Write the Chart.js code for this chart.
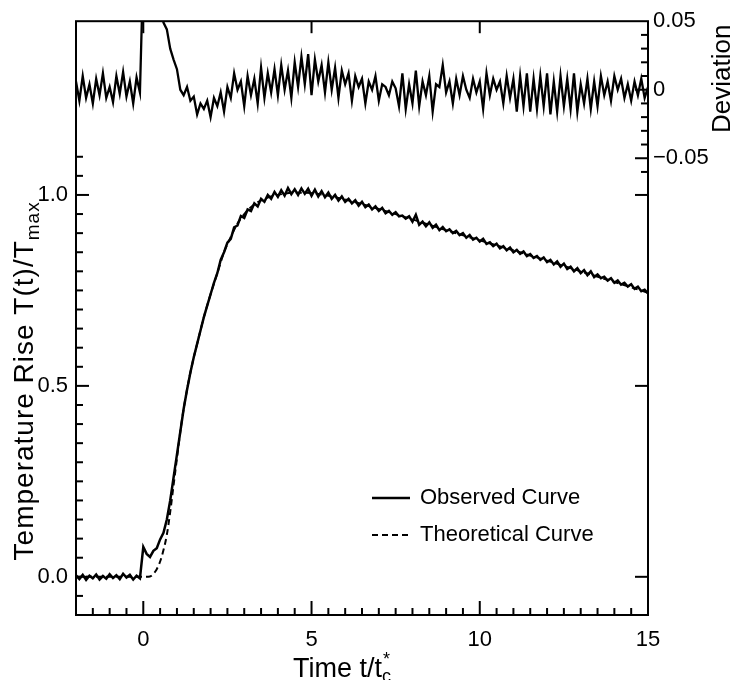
<!DOCTYPE html>
<html>
<head>
<meta charset="utf-8">
<script src="https://cdn.jsdelivr.net/npm/chart.js@4.4.1/dist/chart.umd.min.js"></script>
<style>
  body { margin: 0; background: #fff; }
  #wrap { width: 733px; height: 680px; position: relative; }
</style>
</head>
<body>
<div id="wrap"><canvas id="chart"></canvas></div>
<script>
// sampling grid of the measured traces (t/tc*)
const tStart = -2;
const tStep = 0.1;

// observed temperature rise T(t)/Tmax, one row per unit of time
const obsValue = [
  0.004, -0.006, 0.005, -0.008, 0.003, -0.004, 0.006, -0.007, 0.002, -0.005,
  0.007, -0.003, 0.004, -0.006, 0.008, -0.002, 0.005, -0.007, 0.003, -0.004,
  0.078, 0.06, 0.052, 0.068, 0.075, 0.098, 0.115, 0.15, 0.2, 0.26,
  0.32, 0.38, 0.44, 0.49, 0.535, 0.575, 0.61, 0.645, 0.68, 0.71,
  0.74, 0.77, 0.795, 0.83, 0.85, 0.875, 0.885, 0.915, 0.92, 0.945,
  0.94, 0.962, 0.958, 0.978, 0.97, 0.99, 0.982, 1.0, 0.99, 1.008,
  0.995, 1.012, 0.998, 1.018, 1.002, 1.015, 1.0, 1.017, 1.003, 1.016,
  0.998, 1.014, 0.996, 1.01, 0.994, 1.006, 0.99, 1.0, 0.985, 0.996,
  0.982, 0.99, 0.978, 0.986, 0.972, 0.982, 0.968, 0.975, 0.962, 0.97,
  0.958, 0.966, 0.952, 0.958, 0.948, 0.955, 0.944, 0.946, 0.938, 0.944,
  0.93, 0.948, 0.922, 0.93, 0.918, 0.928, 0.914, 0.922, 0.908, 0.916,
  0.905, 0.91, 0.9, 0.906, 0.895, 0.9, 0.888, 0.895, 0.883, 0.888,
  0.878, 0.885, 0.872, 0.876, 0.866, 0.872, 0.86, 0.866, 0.855, 0.862,
  0.85, 0.856, 0.846, 0.852, 0.84, 0.845, 0.835, 0.84, 0.83, 0.836,
  0.824, 0.83, 0.818, 0.826, 0.812, 0.82, 0.806, 0.812, 0.8, 0.808,
  0.795, 0.803, 0.79, 0.8, 0.785, 0.792, 0.782, 0.786, 0.776, 0.782,
  0.77, 0.776, 0.765, 0.77, 0.76, 0.766, 0.754, 0.76, 0.748, 0.752,
  0.742
];

// deviation observed - theoretical (right axis)
const devValue = [
  0.006, -0.008, 0.01, -0.006, 0.004, -0.01, 0.008, -0.004, 0.012, -0.006,
  0.002, -0.009, 0.01, -0.003, 0.013, -0.005, 0.006, -0.01, 0.009, -0.002,
  0.09, 0.085, 0.08, 0.078, 0.075, 0.06, 0.049, 0.044, 0.03, 0.022,
  0.015, 0.0, -0.004, 0.002, -0.008, -0.005, -0.018, -0.01, -0.014, -0.008,
  -0.02, -0.006, -0.012, -0.002, -0.016, 0.002, -0.006, 0.012, 0.0, 0.006,
  -0.012, 0.01, -0.004, 0.008, -0.01, 0.016, -0.006, 0.012, -0.002, 0.015,
  -0.004, 0.018, 0.0, 0.014, -0.006, 0.02, 0.002, 0.024, 0.004, 0.026,
  -0.004, 0.022, 0.006, 0.018, -0.002, 0.02, 0.0, 0.016, -0.006, 0.014,
  0.004, 0.012, -0.008, 0.01, 0.002, 0.008, -0.01, 0.006, 0.0, 0.01,
  -0.008, 0.004, 0.002, -0.004, 0.006, 0.001, -0.012, 0.012, -0.014, 0.004,
  -0.01, 0.014, -0.012, 0.006, -0.004, 0.01, -0.016, 0.004, 0.002, 0.018,
  -0.002, 0.006, -0.01, 0.008, -0.004, 0.01, 0.0, -0.006, 0.008, -0.002,
  0.006, -0.014, 0.012, -0.004, 0.008, 0.0, 0.006, -0.01, 0.01, -0.006,
  0.008, -0.016, 0.01, -0.012, 0.012, -0.016, 0.008, -0.014, 0.01, -0.012,
  0.012, -0.018, 0.006, -0.016, 0.01, -0.012, 0.008, -0.014, 0.012, -0.016,
  0.004, -0.01, 0.008, -0.014, 0.006, -0.012, 0.01, -0.004, 0.006, -0.008,
  0.01, 0.0, 0.008, -0.006, 0.004, -0.008, 0.006, -0.004, 0.008, -0.006,
  0.002
];

// theoretical curve
const theoTime = [-2, 0, 0.2, 0.3, 0.4, 0.5, 0.6, 0.7, 0.8, 0.9,
  1.0, 1.1, 1.2, 1.3, 1.4, 1.5, 1.6, 1.8, 2.0, 2.2, 2.4, 2.6, 2.8, 3.0,
  3.3, 3.6, 4.0, 4.5, 5.0, 5.5, 6.0, 7, 8, 9, 10, 11, 12, 13, 14, 15];
const theoValue = [0, 0, 0.001, 0.008, 0.02, 0.04, 0.07, 0.11, 0.17, 0.24,
  0.31, 0.38, 0.44, 0.49, 0.535, 0.575, 0.61, 0.68, 0.74, 0.795, 0.85, 0.89, 0.925, 0.95,
  0.975, 0.99, 1.0, 1.006, 1.005, 0.998, 0.988, 0.963, 0.936, 0.908, 0.881, 0.855, 0.828, 0.8, 0.772, 0.744];

// axis tick labels
const xTicks = [0, 5, 10, 15];
const yTicks = [0, 0.5, 1.0];
const devTicks = [0.05, 0, -0.05];

const FONT = "'Liberation Sans', Arial, Helvetica, sans-serif";
Chart.defaults.font.family = FONT;
Chart.defaults.color = "#000";

const obsData = obsValue.map((v, i) => ({ x: +(tStart + i * tStep).toFixed(2), y: v }));
const devData = devValue.map((v, i) => ({ x: +(tStart + i * tStep).toFixed(2), y: v }));
const theoData = theoTime.map((t, i) => ({ x: t, y: theoValue[i] }));

// inward ticks, frame, titles and legend
const decor = {
  id: "decor",
  afterDatasetsDraw(chart) {
    const { ctx, chartArea: a, scales } = chart;
    const x = scales.x, y = scales.y, d = scales.yDev;
    ctx.save();
    ctx.strokeStyle = "#000";
    ctx.lineWidth = 2;
    const hTick = (px, py, len) => { ctx.beginPath(); ctx.moveTo(px, py); ctx.lineTo(px + len, py); ctx.stroke(); };
    const vTick = (px, py, len) => { ctx.beginPath(); ctx.moveTo(px, py); ctx.lineTo(px, py + len); ctx.stroke(); };

    // left axis: every 0.05 from -0.05 to 1.1
    for (let k = -1; k <= 22; k++) {
      const v = k * 0.05;
      hTick(a.left, y.getPixelForValue(v), k % 10 === 0 ? 13 : 7);
    }
    // right axis: deviation ticks every 0.01, then main-panel majors
    for (let k = -6; k <= 4; k++) {
      hTick(a.right, d.getPixelForValue(k * 0.01), k % 5 === 0 ? -13 : -7);
    }
    for (const v of yTicks) hTick(a.right, y.getPixelForValue(v), -13);
    // bottom axis: every 0.5
    for (let k = -3; k <= 29; k++) {
      const v = k * 0.5;
      vTick(x.getPixelForValue(v), a.bottom, k % 10 === 0 ? -14 : -7);
    }
    // top axis
    for (const v of [0, 5, 10]) vTick(x.getPixelForValue(v), a.top, 12);

    // frame
    ctx.strokeRect(a.left, a.top, a.right - a.left, a.bottom - a.top);

    ctx.fillStyle = "#000";
    ctx.textBaseline = "alphabetic";

    // left title with subscript
    ctx.save();
    ctx.translate(33, y.getPixelForValue(0.5) - 5);
    ctx.rotate(-Math.PI / 2);
    ctx.letterSpacing = "1px";
    const main = "Temperature Rise T(t)/T";
    ctx.font = "28px " + FONT;
    const w1 = ctx.measureText(main).width;
    ctx.font = "19px " + FONT;
    const w2 = ctx.measureText("max").width;
    let sx = -(w1 + w2) / 2;
    ctx.font = "28px " + FONT;
    ctx.textAlign = "left";
    ctx.fillText(main, sx, 0);
    ctx.font = "19px " + FONT;
    ctx.fillText("max", sx + w1, 6);
    ctx.restore();

    // right title
    ctx.save();
    ctx.translate(730, d.getPixelForValue(0.008));
    ctx.rotate(-Math.PI / 2);
    ctx.font = "26px " + FONT;
    ctx.textAlign = "center";
    ctx.fillText("Deviation", 0, 0);
    ctx.restore();

    // x title: Time t/tc*
    ctx.font = "27px " + FONT;
    const m1 = "Time t/t";
    const mw1 = ctx.measureText(m1).width;
    ctx.font = "18px " + FONT;
    const mw2 = ctx.measureText("c").width;
    let tx = (a.left + a.right) / 2 - (mw1 + mw2) / 2 - 20;
    const ty = 677;
    ctx.textAlign = "left";
    ctx.font = "27px " + FONT;
    ctx.fillText(m1, tx, ty);
    ctx.font = "18px " + FONT;
    ctx.fillText("c", tx + mw1, ty + 5);
    ctx.fillText("*", tx + mw1 + 1, ty - 12);

    // legend
    ctx.lineWidth = 2.4;
    ctx.beginPath();
    ctx.moveTo(372, 498); ctx.lineTo(410, 498); ctx.stroke();
    ctx.lineWidth = 2;
    ctx.setLineDash([6, 4]);
    ctx.beginPath();
    ctx.moveTo(372, 535); ctx.lineTo(410, 535); ctx.stroke();
    ctx.setLineDash([]);
    ctx.font = "22px " + FONT;
    ctx.textBaseline = "middle";
    ctx.fillText("Observed Curve", 420, 498);
    ctx.fillText("Theoretical Curve", 420, 535);
    ctx.restore();
  }
};

new Chart(document.getElementById("chart"), {
  type: "line",
  data: {
    datasets: [
      {
        label: "Observed Curve",
        data: obsData,
        yAxisID: "y",
        borderColor: "#000",
        borderWidth: 2.5,
        pointRadius: 0,
        tension: 0,
      },
      {
        label: "Deviation",
        data: devData,
        yAxisID: "yDev",
        borderColor: "#000",
        borderWidth: 2.3,
        pointRadius: 0,
        tension: 0,
      },
      {
        label: "Theoretical Curve",
        data: theoData,
        yAxisID: "y",
        borderColor: "#000",
        borderWidth: 2,
        borderDash: [6, 4],
        pointRadius: 0,
        cubicInterpolationMode: "monotone",
      },
    ],
  },
  options: {
    responsive: true,
    maintainAspectRatio: false,
    animation: false,
    layout: { padding: { top: 17, left: 0, right: 0, bottom: 0 } },
    plugins: {
      legend: { display: false },
      tooltip: { enabled: false },
    },
    scales: {
      x: {
        type: "linear",
        min: -2,
        max: 15,
        grid: { display: false, drawTicks: false },
        border: { display: false },
        afterBuildTicks: (s) => { s.ticks = xTicks.map((v) => ({ value: v })); },
        afterFit: (s) => { s.height = 65; },
        ticks: { font: { size: 22 }, padding: 12, maxRotation: 0 },
      },
      y: {
        position: "left",
        min: -0.1,
        max: 1.455,
        grid: { display: false, drawTicks: false },
        border: { display: false },
        afterBuildTicks: (s) => { s.ticks = yTicks.map((v) => ({ value: v })); },
        afterFit: (s) => { s.width = 76; },
        ticks: { font: { size: 22 }, padding: 8, callback: (v) => v.toFixed(1) },
      },
      yDev: {
        position: "right",
        min: -0.3833,
        max: 0.05,
        grid: { display: false, drawTicks: false },
        border: { display: false },
        afterBuildTicks: (s) => { s.ticks = devTicks.map((v) => ({ value: v })); },
        afterFit: (s) => { s.width = 85; },
        ticks: {
          font: { size: 22 },
          padding: 5,
          callback: (v) => (v === 0 ? "0" : v < 0 ? "\u2212" + Math.abs(v).toFixed(2) : v.toFixed(2)),
        },
      },
    },
  },
  plugins: [decor],
});
</script>
</body>
</html>
